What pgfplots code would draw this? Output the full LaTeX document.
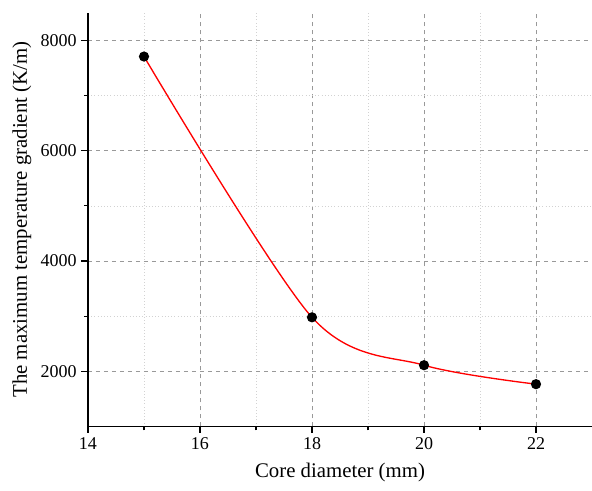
\documentclass[border=0pt]{standalone}
\usepackage{fontspec}
\setmainfont{Liberation Serif}
\usepackage{pgfplots}
\pgfplotsset{compat=1.18}

\begin{document}
\begin{tikzpicture}
\begin{axis}[
    name=ax,
    scale only axis,
    width=378pt, height=310pt,
    xmin=14, xmax=23,
    ymin=1000, ymax=8500,
    xtick={14,16,18,20,22},
    xticklabels={14,16,18,20,22},
    ytick={2000,4000,6000,8000},
    yticklabels={2000,4000,6000,8000},
    minor x tick num=1,
    minor y tick num=1,
    axis x line*=bottom,
    axis y line*=left,
    axis line style={line width=1pt, -},
    tick align=outside,
    major tick length=5pt,
    minor tick length=3pt,
    tick style={black, line width=0.8pt},
    grid=both,
    major grid style={gray!80, dashed, line width=0.5pt},
    minor grid style={gray!35, dotted, line width=0.5pt},
    xlabel={Core diameter (mm)},
    ylabel={The maximum temperature gradient (K/m)},
    /pgf/number format/assume math mode=true,
    tick label style={font=\fontsize{13.5}{15}\selectfont},
    label style={font=\fontsize{15.6}{18}\selectfont},
    xlabel style={yshift=-3pt},
    ylabel style={yshift=0pt},
]
\addplot[red, line width=1pt, smooth, tension=0.5, mark=*, mark size=3.3pt,
    mark options={black, fill=black}]
    coordinates {(15,7710)(18,2978)(20,2109)(22,1765)};
\end{axis}
\pgfresetboundingbox
\path ([xshift=-66pt, yshift=-48pt]ax.south west) rectangle ([yshift=9.75pt]ax.north east);
\end{tikzpicture}
\end{document}
